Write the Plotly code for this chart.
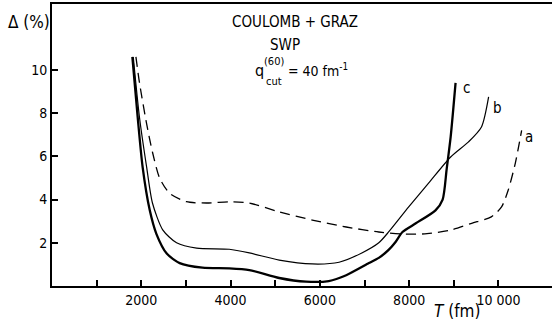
import plotly.graph_objects as go

# Curve a (dashed)
T_a = [1880, 1960, 2120, 2250, 2410, 2630, 3010, 3460, 4000, 4420, 5090, 5830, 6590, 7320, 7900, 8400, 8950, 9400, 9840, 10070, 10220, 10380, 10520]
D_a = [10.6, 9.4, 7.5, 6.2, 5.0, 4.3, 3.9, 3.84, 3.9, 3.84, 3.43, 3.05, 2.73, 2.5, 2.4, 2.42, 2.6, 2.9, 3.2, 3.66, 4.44, 5.7, 7.2]

# Curve b (thin solid)
T_b = [1820, 1960, 2120, 2250, 2480, 2790, 3240, 3970, 4420, 5090, 5830, 6430, 6940, 7320, 7540, 7990, 8440, 8930, 9330, 9620, 9780]
D_b = [10.6, 7.8, 5.5, 3.84, 2.6, 2.0, 1.75, 1.7, 1.53, 1.2, 1.02, 1.1, 1.53, 2.0, 2.5, 3.66, 4.77, 5.97, 6.67, 7.36, 8.75]

# Curve c (thick solid)
T_c = [1800, 1920, 2030, 2190, 2340, 2570, 2860, 3370, 3970, 4420, 5090, 5690, 6200, 6590, 7100, 7320, 7540, 7700, 7850, 8150, 8590, 8750, 8840, 8930, 9040]
D_c = [10.6, 7.8, 5.5, 3.5, 2.4, 1.5, 1.06, 0.85, 0.82, 0.74, 0.37, 0.2, 0.23, 0.5, 1.06, 1.3, 1.67, 2.05, 2.5, 2.9, 3.5, 4.0, 5.4, 6.9, 9.4]

x_ticks = [2000, 4000, 6000, 8000, 10000]
x_labels = ["2000", "4000", "6000", "8000", "10 000"]
x_minor = [1000, 3000, 5000, 7000, 9000]
y_ticks = [2, 4, 6, 8, 10]
y_labels = ["2", "4", "6", "8", "10"]

FONT = "DejaVu Sans Condensed, Liberation Sans, sans-serif"

fig = go.Figure()
fig.add_trace(go.Scatter(x=T_a, y=D_a, mode="lines",
                         line=dict(color="black", width=1.3, dash="10px,6px", shape="spline", smoothing=0.7)))
fig.add_trace(go.Scatter(x=T_b, y=D_b, mode="lines",
                         line=dict(color="black", width=1.2, shape="spline", smoothing=0.7)))
fig.add_trace(go.Scatter(x=T_c, y=D_c, mode="lines",
                         line=dict(color="black", width=2.3, shape="spline", smoothing=0.7)))

L, R, TOP, BOT = 52, 552, 4, 286
def px(x):
    return (x - L) / (R - L)
def py(y):
    return (BOT - y) / (BOT - TOP)

ann = []
def add(text, x, y, size=15, xanchor="center"):
    ann.append(dict(text=text, x=px(x), y=py(y), xref="paper", yref="paper",
                    showarrow=False, xanchor=xanchor, yanchor="middle",
                    font=dict(family=FONT, size=size, color="black")))

add("COULOMB + GRAZ", 295, 22, 15)
add("SWP", 285, 45, 15)
add("q", 259, 70, 16)
add("(60)", 274, 62, 11)
add("cut", 274, 81, 11)
add("= 40 fm<sup>-1</sup>", 286, 70, 14, xanchor="left")
add("c", 466, 88, 15)
add("b", 497, 108, 15)
add("a", 529, 137, 15)
add("Δ (%)", 29, 22, 17)
add("<i>T</i> (fm)", 457, 311, 17)

fig.update_layout(
    width=552, height=325,
    margin=dict(l=L, r=0, t=TOP, b=325 - BOT),
    paper_bgcolor="white", plot_bgcolor="white",
    showlegend=False,
    annotations=ann,
    font=dict(family=FONT, size=14, color="black"),
)
fig.update_xaxes(range=[0, 11200], tickvals=x_ticks, ticktext=x_labels,
                 ticks="inside", ticklen=6, tickwidth=1.5, tickcolor="black",
                 minor=dict(tickvals=x_minor, ticks="inside", ticklen=6, tickwidth=1.5,
                            tickcolor="black", showgrid=False),
                 showline=True, linewidth=2, linecolor="black", mirror=True,
                 showgrid=False, zeroline=False,
                 tickfont=dict(family=FONT, size=14, color="black"))
fig.update_yaxes(range=[0, 13.05], tickvals=y_ticks, ticktext=y_labels,
                 ticks="inside", ticklen=6, tickwidth=1.5, tickcolor="black",
                 showline=True, linewidth=1.8, linecolor="black",
                 showgrid=False, zeroline=False,
                 tickfont=dict(family=FONT, size=14, color="black"))

fig.write_html("out.html")
